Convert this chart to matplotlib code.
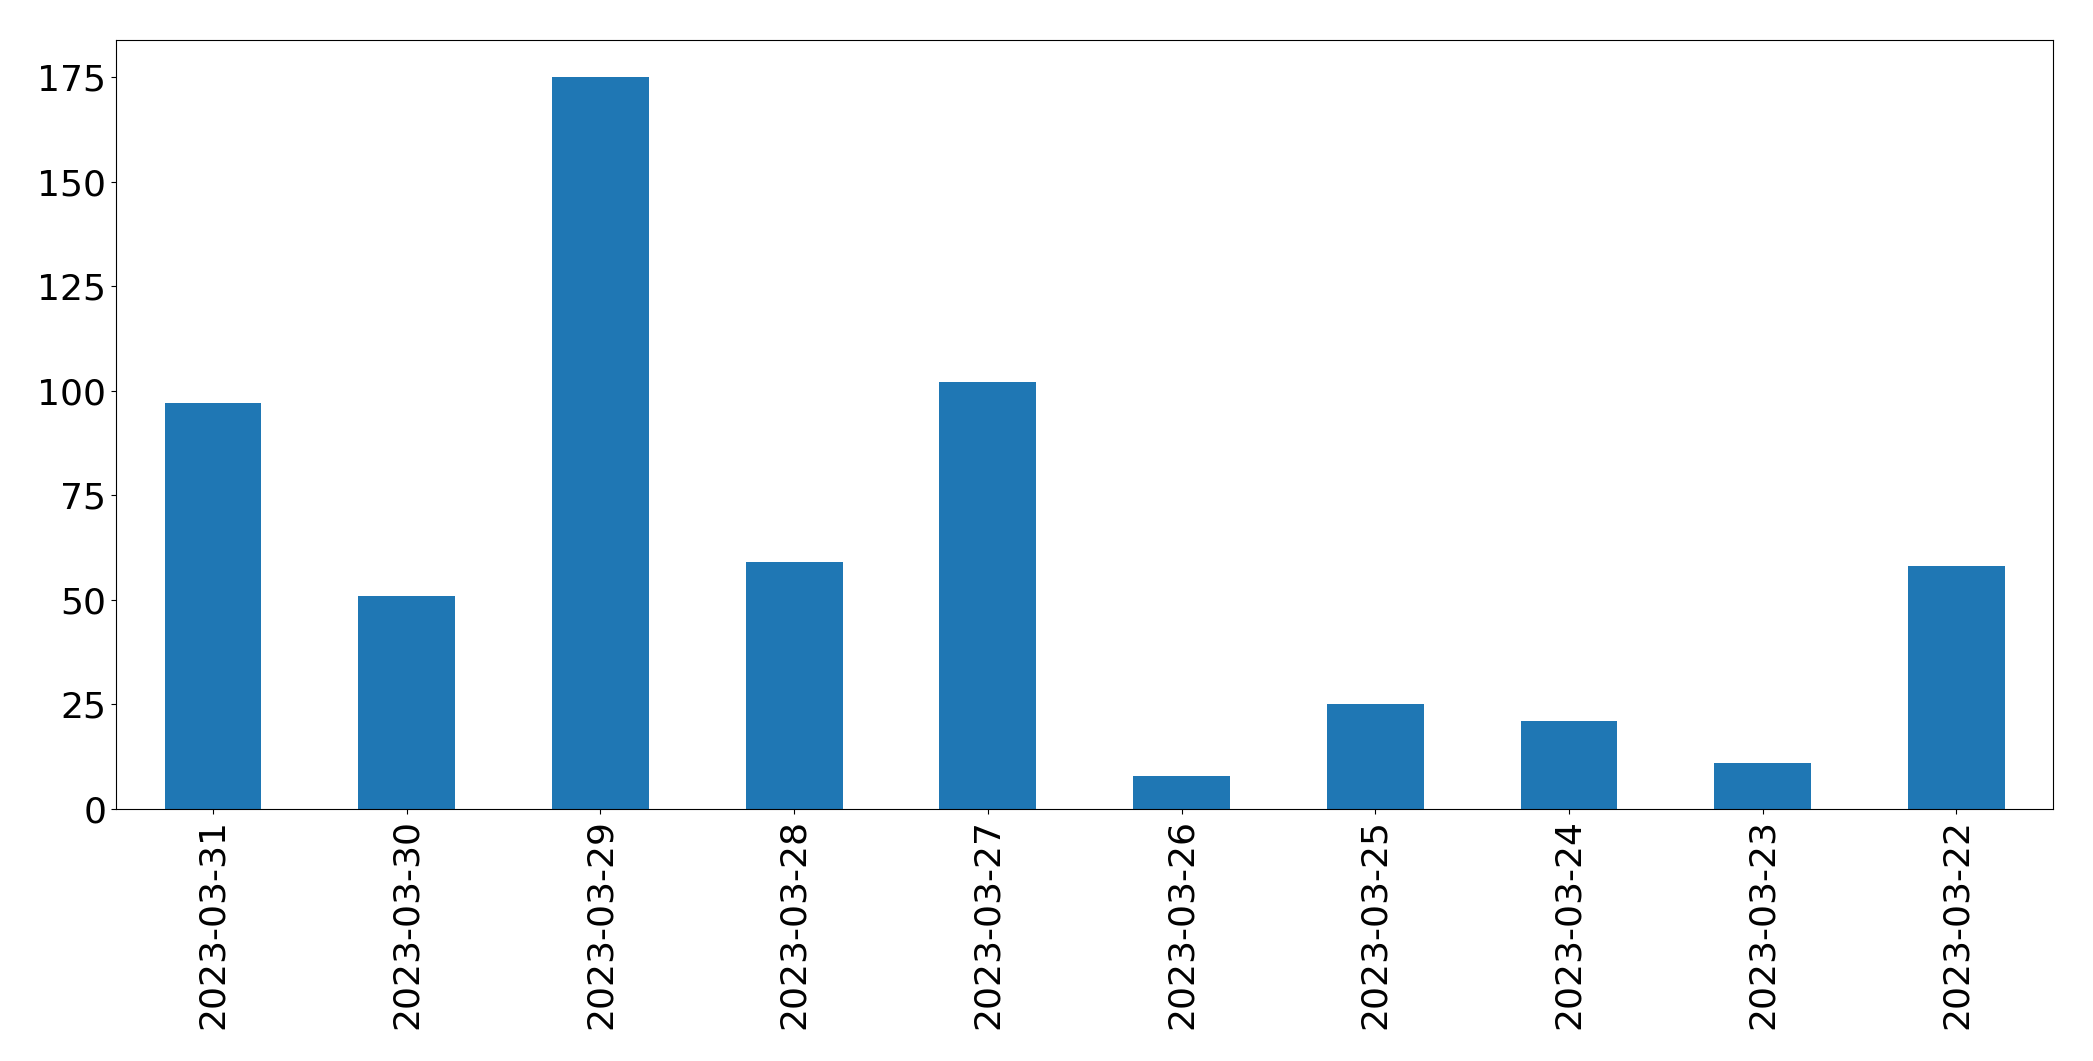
import matplotlib
matplotlib.use("Agg")
import matplotlib.pyplot as plt
import numpy as np

# Données
dates = ["2023-03-31", "2023-03-30", "2023-03-29", "2023-03-28", "2023-03-27",
         "2023-03-26", "2023-03-25", "2023-03-24", "2023-03-23", "2023-03-22"]
valeurs = [97, 51, 175, 59, 102, 8, 25, 21, 11, 58]

fig = plt.figure(figsize=(20.93, 10.61), dpi=100)
ax = fig.add_axes([0.0555, 0.2375, 0.9255, 0.7245])

x = np.arange(len(dates))
ax.bar(x, valeurs, width=0.5, color="#1f77b4")
ax.set_xlim(-0.5, len(dates) - 0.5)
ax.set_ylim(0, max(valeurs) * 1.05)
ax.set_yticks([0, 25, 50, 75, 100, 125, 150, 175])
ax.set_xticks(x)
ax.set_xticklabels(dates, rotation=90)
ax.tick_params(axis="both", labelsize=26)

fig.savefig("out.png", dpi=100)
